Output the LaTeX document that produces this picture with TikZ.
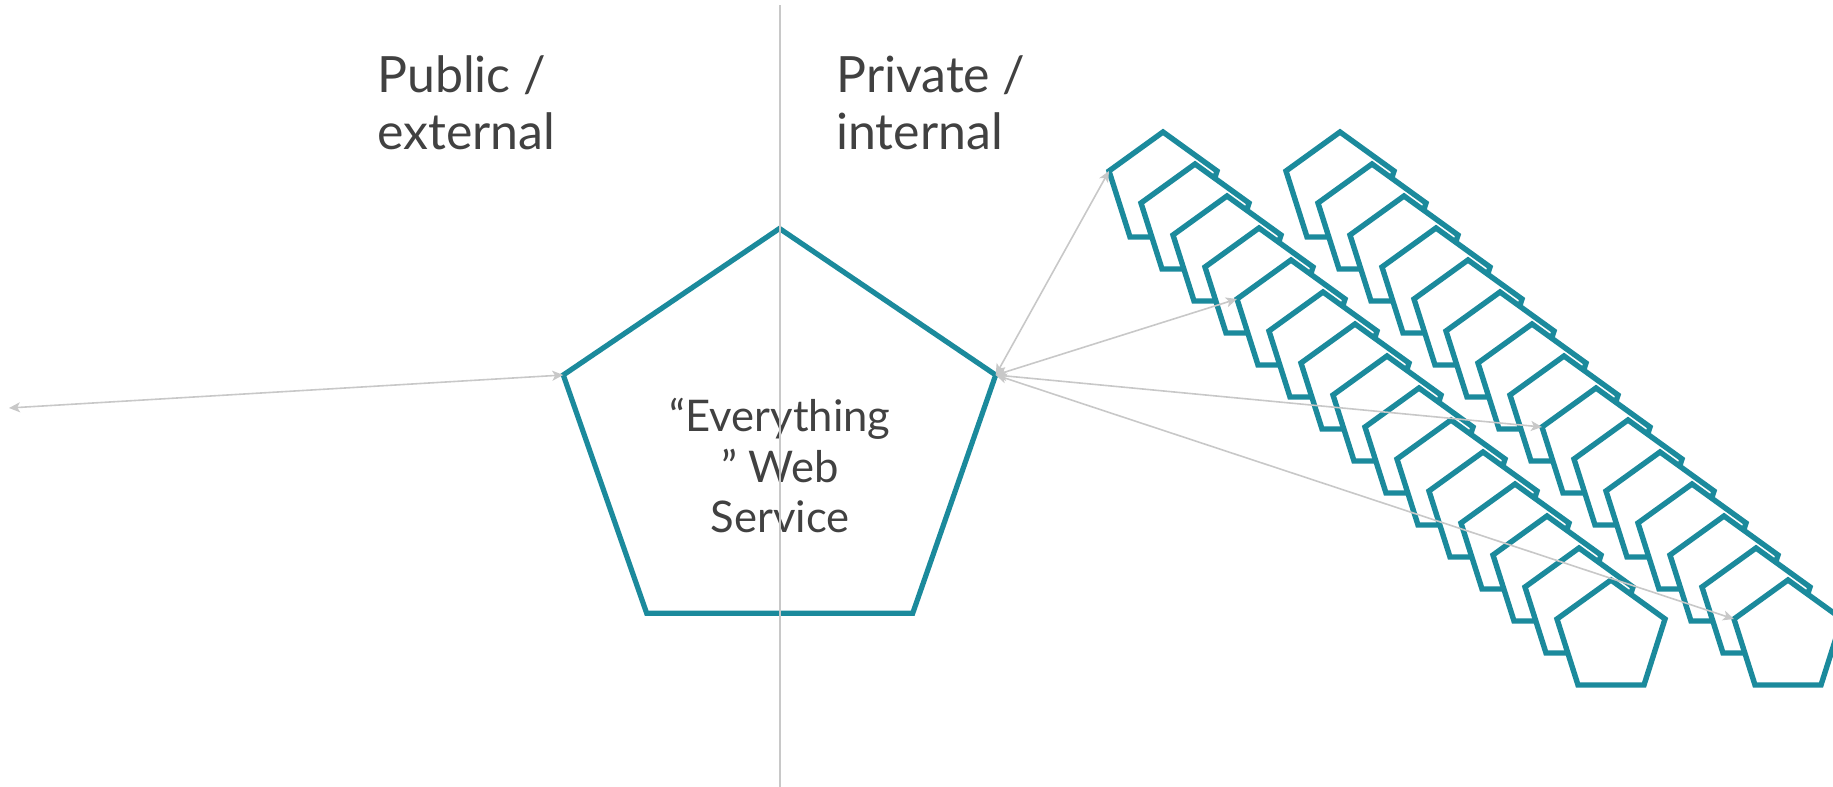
\documentclass[tikz,border=0pt]{standalone}
\usepackage{fontspec}
\setmainfont{Lato}
\usetikzlibrary{arrows.meta}

\definecolor{svcteal}{HTML}{1B8A9C}
\definecolor{divgray}{HTML}{C8C8C8}
\definecolor{txtgray}{HTML}{414141}

\tikzset{
  bigpent/.style={draw=svcteal, line width=2.6pt, line join=miter},
  smallpent/.style={draw=svcteal, fill=white, line width=2.7pt, line join=miter},
  link/.style={draw=divgray, line width=0.8pt,
    {Stealth[length=5.5pt,width=5pt,inset=1.4pt]}-{Stealth[length=5.5pt,width=5pt,inset=1.4pt]}},
  divider/.style={draw=divgray, line width=1pt},
  zonelabel/.style={text=txtgray, font=\fontsize{25}{30}\selectfont, inner sep=0pt, anchor=base west},
  svctext/.style={text=txtgray, font=\fontsize{21.8}{26}\selectfont, inner sep=0pt, anchor=base},
  pent/.pic={
    \path[smallpent] (0,0) coordinate (-t) -- (54,39) coordinate (-r)
      -- (33,105) coordinate (-br) -- (-33,105) coordinate (-bl)
      -- (-54,39) coordinate (-l) -- cycle;
  }
}

\begin{document}
\begin{tikzpicture}[x=0.5pt, y=-0.5pt]
  \useasboundingbox (0,0) rectangle (1833,787);

  % zone labels
  \node[zonelabel] (pub1) at (377,92) {Public /};
  \node[zonelabel] (pub2) at (377,149) {external};
  \node[zonelabel] (prv1) at (836,92) {Private /};
  \node[zonelabel] (prv2) at (836,149) {internal};

  % central service
  \coordinate (bigT)  at (779.5,228.5);
  \coordinate (bigR)  at (995.7,375);
  \coordinate (bigBR) at (912.7,613.3);
  \coordinate (bigBL) at (646.7,613.3);
  \coordinate (bigL)  at (563.3,375);
  \draw[bigpent] (bigT) -- (bigR) -- (bigBR) -- (bigBL) -- (bigL) -- cycle;
  \node[svctext] (ev1) at (780,431) {“Everything};
  \node[svctext] (ev2) at (780,482) {” Web};
  \node[svctext] (ev3) at (780,532) {Service};

  % internal services, two diagonal stacks
  \foreach \k in {0,...,14} {
    \pic (a\k) at ({1163+32*\k},{132+32*\k}) {pent};
  }
  \foreach \k in {0,...,14} {
    \pic (b\k) at ({1340+32*\k},{132+32*\k}) {pent};
  }

  % connections
  \coordinate (outside) at (9,408);
  \draw[link] (bigL) -- (outside);
  \draw[link] (bigR) -- (a0-l);
  \draw[link] (bigR) -- (a4-l);
  \draw[link] (bigR) -- (b8-l);
  \draw[link] (bigR) -- (b14-l);

  % public / private boundary
  \coordinate (divtop) at (780,5);
  \coordinate (divbot) at (780,787);
  \draw[divider] (divtop) -- (divbot);
\end{tikzpicture}
\end{document}
